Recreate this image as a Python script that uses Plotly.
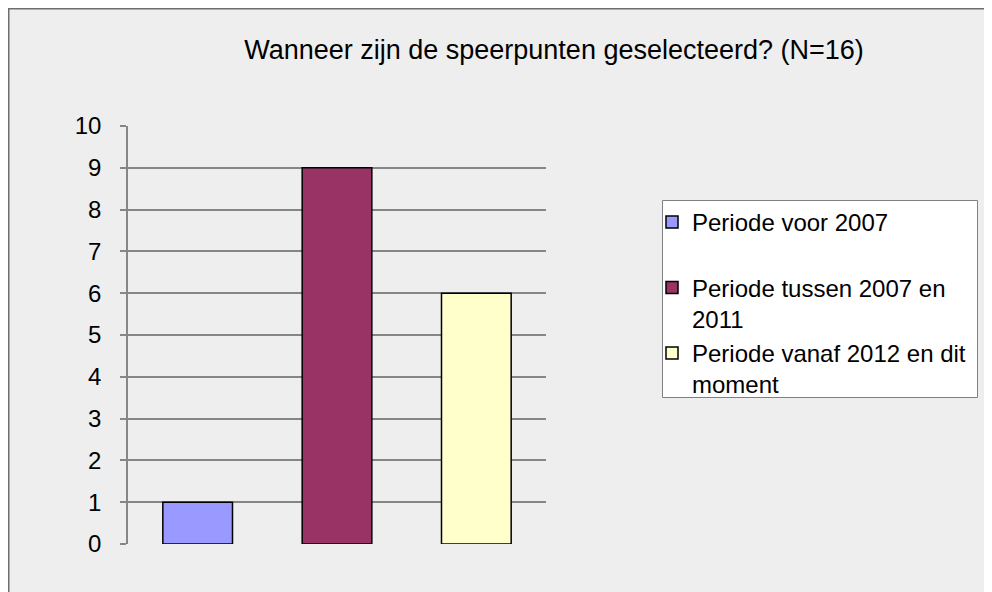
import plotly.graph_objects as go

title_text = "Wanneer zijn de speerpunten geselecteerd? (N=16)"
categories = ["Periode voor 2007", "Periode tussen 2007 en 2011", "Periode vanaf 2012 en dit moment"]
legend_labels = ["Periode voor 2007<br> ", "Periode tussen 2007 en<br>2011", "Periode vanaf 2012 en dit<br>moment"]
values = [1, 9, 6]
colors = ["#9999FF", "#993366", "#FFFFCC"]
y_ticks = list(range(0, 11))

W, H = 992, 592
L, R, T, B = 120, 538, 118, 536
pw, ph = R - L, B - T

def px(x):
    return (x - L) / pw

def py(y):
    return (B - y) / ph

fig = go.Figure()
for i, (cat, lab, v, c) in enumerate(zip(categories, legend_labels, values, colors)):
    fig.add_trace(go.Bar(
        x=[cat], y=[v], name=lab, legendgroup=f"g{i}",
        marker=dict(color=c, line=dict(color="#000000", width=1.5)),
        width=0.5,
    ))

fig.update_layout(
    width=W, height=H,
    margin=dict(l=L, r=W - R, t=T, b=H - B, pad=0),
    paper_bgcolor="#EEEEEE", plot_bgcolor="#EEEEEE",
    barmode="overlay",
    font=dict(family="Liberation Sans, Arial, sans-serif", color="#000000"),
    title=dict(text=title_text, x=546 / W, xanchor="center", y=1 - 42 / H, yanchor="middle",
               xref="container", yref="container",
               font=dict(size=27, color="#000000")),
    showlegend=True,
    legend=dict(x=px(644), y=py(192), xanchor="left", yanchor="top",
                bgcolor="rgba(0,0,0,0)", borderwidth=0,
                font=dict(size=24), valign="top", tracegroupgap=15,
                traceorder="normal"),
    xaxis=dict(categoryorder="array", categoryarray=categories, showticklabels=False,
               showgrid=False, zeroline=False, showline=False, ticks="",
               range=[-0.5, 2.5], fixedrange=True),
    yaxis=dict(range=[0, 10], tickvals=y_ticks, ticktext=[str(t) for t in y_ticks],
               showgrid=True, gridcolor="#868686", gridwidth=1.5,
               showline=True, linecolor="#868686", linewidth=1.5,
               ticks="outside", ticklen=6, tickcolor="#868686", tickwidth=1.5,
               tickfont=dict(size=24), ticklabelstandoff=14,
               zeroline=False, fixedrange=True),
    shapes=[
        dict(type="line", xref="paper", yref="paper",
             x0=px(0.75), x1=px(0.75), y0=py(H), y1=py(0),
             line=dict(color="#6E6E6E", width=1.5), layer="below"),
        dict(type="line", xref="paper", yref="paper",
             x0=px(0), x1=px(W), y0=py(0.75), y1=py(0.75),
             line=dict(color="#6E6E6E", width=1.5), layer="below"),
        dict(type="rect", xref="paper", yref="paper",
             x0=px(654.5), x1=px(969.5), y0=py(389.5), y1=py(192.5),
             line=dict(color="#808080", width=1), fillcolor="#FFFFFF", layer="below"),
    ],
)

fig.write_html("out.html",
               post_script="document.documentElement.style.overflow='hidden';"
                           "document.body.style.overflow='hidden';")
